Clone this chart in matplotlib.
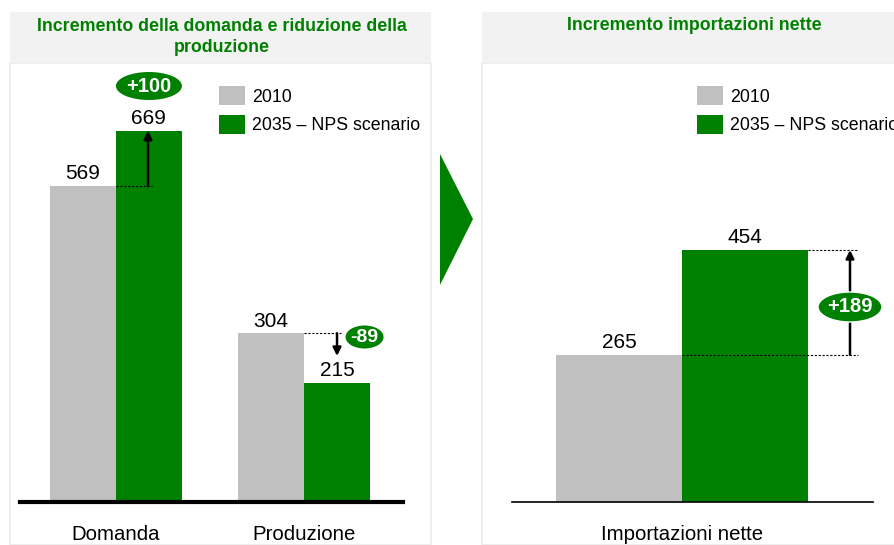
import matplotlib.pyplot as plt
from matplotlib.patches import Rectangle, Ellipse, Polygon
import numpy as np

plt.rcParams['font.family'] = ['Liberation Sans', 'DejaVu Sans']

# dati
categorie_sx = ['Domanda', 'Produzione']
val_2010_sx = [569, 304]
val_2035_sx = [669, 215]
delta_sx = ['+100', '-89']

categorie_dx = ['Importazioni nette']
val_2010_dx = [265]
val_2035_dx = [454]
delta_dx = ['+189']

serie = ['2010', '2035 – NPS scenario']
GRIGIO = '#C0C0C0'
VERDE = '#008000'

W, H = 895, 545
fig = plt.figure(figsize=(W / 100, H / 100), dpi=100)


def fx(px):
    return px / W


def fy(py):
    return 1 - py / H


# pannelli di sfondo
for x0, x1 in [(10, 431), (482, 905)]:
    fig.patches.append(Rectangle((fx(x0), fy(H)), fx(x1 - x0), fy(63) - fy(H),
                                 transform=fig.transFigure, facecolor='white',
                                 edgecolor='#EBEBEB', lw=1.2, zorder=-10))
    fig.patches.append(Rectangle((fx(x0), fy(63)), fx(x1 - x0), fy(12) - fy(63),
                                 transform=fig.transFigure, facecolor='#F2F2F2',
                                 edgecolor='none', zorder=-10))

fig.text(fx(222), fy(37), 'Incremento della domanda e riduzione della\nproduzione',
         ha='center', va='center', color=VERDE, fontsize=12.8, fontweight='bold',
         linespacing=1.25)
fig.text(fx(694), fy(26), 'Incremento importazioni nette', ha='center', va='center',
         color=VERDE, fontsize=12.8, fontweight='bold')

# freccia tra i pannelli
fig.patches.append(Polygon([(fx(440), fy(154)), (fx(473), fy(219)), (fx(440), fy(285))],
                           closed=True, transform=fig.transFigure,
                           facecolor=VERDE, edgecolor='none'))

scala = 0.555  # px per unità
base = 502
top = 65
ymax = (base - top) / scala
leg_kw = dict(frameon=False, fontsize=12.8, handlelength=1.45, handleheight=1.3,
              handletextpad=0.4, labelspacing=0.5, borderaxespad=0, borderpad=0)

# grafico sinistro
ax1 = fig.add_axes([fx(20), fy(base), fx(403 - 20), fy(top) - fy(base)])
ax1.set_facecolor('none')
x = np.arange(len(categorie_sx))
w = 0.35
ax1.bar(x - w / 2, val_2010_sx, w, color=GRIGIO, label=serie[0])
ax1.bar(x + w / 2, val_2035_sx, w, color=VERDE, label=serie[1])
ax1.set_xlim(-0.507, 1.525)
ax1.set_ylim(0, ymax)
for i in range(len(x)):
    ax1.annotate(str(val_2010_sx[i]), (x[i] - w / 2, val_2010_sx[i]), xytext=(0, 2),
                 textcoords='offset points', ha='center', va='bottom', fontsize=15)
    ax1.annotate(str(val_2035_sx[i]), (x[i] + w / 2, val_2035_sx[i]), xytext=(0, 2),
                 textcoords='offset points', ha='center', va='bottom', fontsize=15)

# delta domanda
xa = 0.172
ax1.plot([0, xa + 0.02], [val_2010_sx[0]] * 2, color='black', ls=(0, (2, 1.5)), lw=0.8)
ax1.annotate('', xy=(xa, val_2035_sx[0]), xytext=(xa, val_2010_sx[0]),
             arrowprops=dict(arrowstyle='-|>', color='black', lw=1.8, mutation_scale=12,
                             shrinkA=0, shrinkB=0))
ax1.add_patch(Ellipse((0.177, (base - 86) / scala), 66 / 188.5, 28 / scala,
                      facecolor=VERDE, edgecolor='none', zorder=5, clip_on=False))
ax1.text(0.177, (base - 86) / scala, delta_sx[0], ha='center', va='center', color='white',
         fontsize=14.5, fontweight='bold', zorder=6, clip_on=False)

# delta produzione
xb = 1.175
ax1.plot([1.0, xb + 0.02], [val_2010_sx[1]] * 2, color='black', ls=(0, (2, 1.5)), lw=0.8)
ax1.annotate('', xy=(xb, (base - 356) / scala), xytext=(xb, val_2010_sx[1]),
             arrowprops=dict(arrowstyle='-|>', color='black', lw=1.8, mutation_scale=12,
                             shrinkA=0, shrinkB=0))
xe = (364.5 - 115.5) / 188.5
ax1.add_patch(Ellipse((xe, (base - 337) / scala), 38 / 188.5, 23 / scala,
                      facecolor=VERDE, edgecolor='none', zorder=5, clip_on=False))
ax1.text(xe, (base - 337) / scala, delta_sx[1], ha='center', va='center', color='white',
         fontsize=14, fontweight='bold', zorder=6, clip_on=False)

for s in ['top', 'right', 'left']:
    ax1.spines[s].set_visible(False)
ax1.spines['bottom'].set_linewidth(3)
ax1.set_yticks([])
ax1.set_xticks([])
for i, c in enumerate(categorie_sx):
    ax1.text(x[i], -(535 - base) / scala, c, ha='center', va='center', fontsize=14.7)
ax1.legend(loc='upper left', bbox_to_anchor=((220 - 20) / 383 - 0.002, 1 - (86 - top) / (base - top)),
           **leg_kw)

# grafico destro
ax2 = fig.add_axes([fx(512), fy(base), fx(873 - 512), fy(top) - fy(base)])
ax2.set_facecolor('none')
w2 = 0.4
ax2.bar([-w2 / 2], val_2010_dx, w2, color=GRIGIO, label=serie[0], zorder=2)
ax2.bar([w2 / 2], val_2035_dx, w2, color=VERDE, label=serie[1], zorder=2)
ax2.set_xlim(-0.541, 0.605)
ax2.set_ylim(0, ymax)
ax2.annotate(str(val_2010_dx[0]), (-w2 / 2, val_2010_dx[0]), xytext=(0, 2),
             textcoords='offset points', ha='center', va='bottom', fontsize=15)
ax2.annotate(str(val_2035_dx[0]), (w2 / 2, val_2035_dx[0]), xytext=(0, 2),
             textcoords='offset points', ha='center', va='bottom', fontsize=15)
xc = 0.532
ax2.plot([w2, xc + 0.025], [val_2035_dx[0]] * 2, color='black', ls=(0, (2, 1.5)), lw=0.8,
         zorder=3)
ax2.plot([0, xc + 0.025], [val_2010_dx[0]] * 2, color='black', ls=(0, (2, 1.5)), lw=0.8,
         zorder=3)
ax2.annotate('', xy=(xc, val_2035_dx[0]), xytext=(xc, val_2010_dx[0]),
             arrowprops=dict(arrowstyle='-|>', color='black', lw=1.8, mutation_scale=12,
                             shrinkA=0, shrinkB=0))
ax2.add_patch(Ellipse((xc, (base - 307) / scala), 64 / 315, 30 / scala,
                      facecolor=VERDE, edgecolor='white', lw=1, zorder=5, clip_on=False))
ax2.text(xc, (base - 307) / scala, delta_dx[0], ha='center', va='center', color='white',
         fontsize=14.5, fontweight='bold', zorder=6, clip_on=False)
for s in ['top', 'right', 'left']:
    ax2.spines[s].set_visible(False)
ax2.spines['bottom'].set_linewidth(1.2)
ax2.set_yticks([])
ax2.set_xticks([])
ax2.text(0, -(535 - base) / scala, categorie_dx[0], ha='center', va='center', fontsize=14.7)
ax2.legend(loc='upper left', bbox_to_anchor=((698 - 512) / 361 - 0.002, 1 - (86 - top) / (base - top)),
           **leg_kw)

fig.savefig('out.png', dpi=100)
